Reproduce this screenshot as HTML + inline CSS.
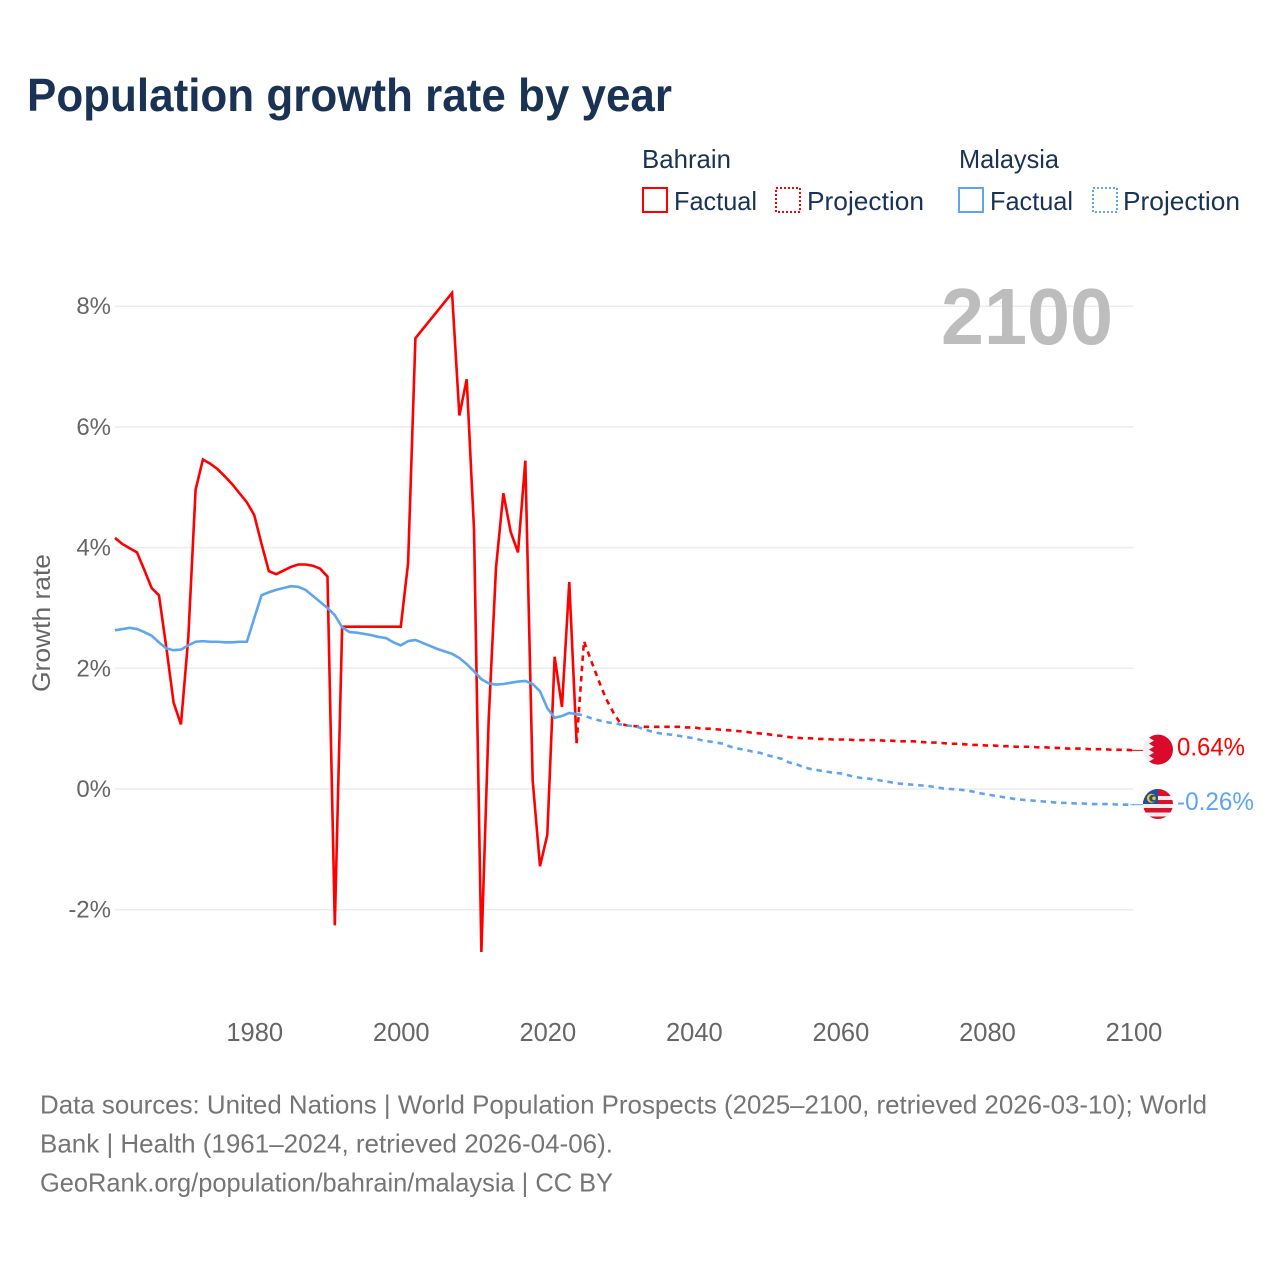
<!DOCTYPE html>
<html lang="en">
<head>
<meta charset="utf-8">
<title>Population growth rate by year</title>
<style>
  html, body { margin: 0; padding: 0; background: #fff; }
  svg { display: block; font-family: "Liberation Sans", sans-serif; }
</style>
</head>
<body>
<svg id="chart" xmlns="http://www.w3.org/2000/svg" width="1280" height="1280" viewBox="0 0 1280 1280">
  <defs>
    <clipPath id="flag-clip"><circle cx="0" cy="0" r="15"></circle></clipPath>
  </defs>
  <rect x="0" y="0" width="1280" height="1280" fill="#ffffff"></rect>

  <text x="27" y="111" font-size="46" font-weight="700" fill="#1a3354" textLength="645" lengthAdjust="spacingAndGlyphs">Population growth rate by year</text>

  <g font-size="26" fill="#1a3354">
    <text x="642" y="168" textLength="89" lengthAdjust="spacingAndGlyphs">Bahrain</text>
    <text x="959" y="168" textLength="100" lengthAdjust="spacingAndGlyphs">Malaysia</text>
    <g>
      <rect x="643" y="188" width="24" height="24" fill="none" stroke="#ff0000" stroke-width="2"></rect>
      <text x="674" y="210" textLength="83" lengthAdjust="spacingAndGlyphs">Factual</text>
    </g>
    <g>
      <rect x="776" y="188" width="24" height="24" fill="none" stroke="#ff0000" stroke-width="2" stroke-dasharray="2 2"></rect>
      <text x="807" y="210" textLength="117" lengthAdjust="spacingAndGlyphs">Projection</text>
    </g>
    <g>
      <rect x="959" y="188" width="24" height="24" fill="none" stroke="#5fa5ee" stroke-width="2"></rect>
      <text x="990" y="210" textLength="83" lengthAdjust="spacingAndGlyphs">Factual</text>
    </g>
    <g>
      <rect x="1093" y="188" width="24" height="24" fill="none" stroke="#5fa5ee" stroke-width="2" stroke-dasharray="2 2"></rect>
      <text x="1123" y="210" textLength="117" lengthAdjust="spacingAndGlyphs">Projection</text>
    </g>
  </g>

  <g id="grid"></g>
  <g id="y-ticks"></g>
  <g id="x-ticks"></g>

  <text transform="translate(50 623) rotate(-90)" text-anchor="middle" font-size="25" fill="#666666" textLength="138" lengthAdjust="spacingAndGlyphs">Growth rate</text>

  <text id="year-watermark" x="1113" y="344" text-anchor="end" font-size="80" font-weight="700" fill="#bdbdbd" textLength="172" lengthAdjust="spacingAndGlyphs">2100</text>

  <g id="series"></g>

  <g id="flag-bahrain">
    <g clip-path="url(#flag-clip)">
      <rect x="-15" y="-16" width="30" height="32" fill="#f0f0f0"></rect>
      <polygon fill="#da0a2c" points="15,-16 -6,-16 -4,-15 -9,-12 -4,-9 -9,-6 -4,-3 -9,0 -4,3 -9,6 -4,9 -9,12 -4,15 -6,16 15,16"></polygon>
    </g>
  </g>

  <g id="flag-malaysia">
    <g clip-path="url(#flag-clip)">
      <rect x="-15" y="-16" width="30" height="32" fill="#eeeeee"></rect>
      <rect x="-15" y="-16" width="30" height="8" fill="#d8112c"></rect>
      <rect x="-15" y="-4" width="30" height="4" fill="#d8112c"></rect>
      <rect x="-15" y="4" width="30" height="4.5" fill="#d8112c"></rect>
      <rect x="-15" y="12.5" width="30" height="4" fill="#d8112c"></rect>
      <rect x="-15" y="-16" width="15" height="16" fill="#1f4fa0"></rect>
      <circle cx="-6.5" cy="-5.7" r="4.6" fill="#f7c600"></circle>
      <circle cx="-5.2" cy="-5.7" r="3.6" fill="#1f4fa0"></circle>
      <circle cx="-4" cy="-5.7" r="1.8" fill="#f7c600"></circle>
    </g>
  </g>

  <g id="end-labels"></g>

  <g font-size="26" fill="#757575">
    <text x="40" y="1113.5" textLength="1167" lengthAdjust="spacingAndGlyphs">Data sources: United Nations | World Population Prospects (2025–2100, retrieved 2026-03-10); World</text>
    <text x="40" y="1152.5" textLength="573" lengthAdjust="spacingAndGlyphs">Bank | Health (1961–2024, retrieved 2026-04-06).</text>
    <text x="40" y="1191.5" textLength="573" lengthAdjust="spacingAndGlyphs">GeoRank.org/population/bahrain/malaysia | CC BY</text>
  </g>
</svg>

<script>
const factualStartYear = 1961;
const projectionStartYear = 2024;

const bahrainFactual = [
  4.16, 4.06, 3.99, 3.92, 3.63, 3.33, 3.21, 2.35, 1.43, 1.07,
  2.50, 4.96, 5.46, 5.39, 5.30, 5.18, 5.05, 4.90, 4.75, 4.54,
  4.06, 3.61, 3.56, 3.62, 3.68, 3.72, 3.72, 3.70, 3.65, 3.52,
  -2.26, 2.69, 2.69, 2.69, 2.69, 2.69, 2.69, 2.69, 2.69, 2.69,
  3.74, 7.47, 7.62, 7.77, 7.92, 8.07, 8.22, 6.19, 6.79, 4.29,
  -2.70, 1.15, 3.67, 4.90, 4.26, 3.92, 5.44, 0.15, -1.28, -0.76,
  2.19, 1.36, 3.43, 0.76
];

const malaysiaFactual = [
  2.63, 2.65, 2.67, 2.65, 2.60, 2.54, 2.43, 2.33, 2.30, 2.31,
  2.38, 2.44, 2.45, 2.44, 2.44, 2.43, 2.43, 2.44, 2.44, 2.83,
  3.21, 3.26, 3.30, 3.33, 3.36, 3.35, 3.30, 3.20, 3.10, 3.00,
  2.88, 2.68, 2.60, 2.59, 2.57, 2.55, 2.52, 2.50, 2.43, 2.38,
  2.45, 2.47, 2.42, 2.37, 2.32, 2.28, 2.24, 2.17, 2.07, 1.95,
  1.82, 1.75, 1.73, 1.74, 1.76, 1.78, 1.79, 1.74, 1.62, 1.34,
  1.18, 1.21, 1.26, 1.24
];

const bahrainProjection = [
  0.76, 2.45, 2.12, 1.80, 1.50, 1.27, 1.08, 1.05, 1.04, 1.03,
  1.03, 1.03, 1.03, 1.03, 1.03, 1.02, 1.02, 1.00, 1.00, 0.99,
  0.98, 0.97, 0.96, 0.95, 0.93, 0.92, 0.91, 0.89, 0.88, 0.86,
  0.85, 0.84, 0.84, 0.83, 0.83, 0.82, 0.82, 0.82, 0.81, 0.81,
  0.81, 0.81, 0.80, 0.80, 0.79, 0.79, 0.79, 0.78, 0.77, 0.77,
  0.76, 0.75, 0.75, 0.74, 0.73, 0.73, 0.72, 0.72, 0.71, 0.71,
  0.70, 0.70, 0.70, 0.69, 0.69, 0.68, 0.68, 0.67, 0.67, 0.67,
  0.66, 0.66, 0.66, 0.65, 0.65, 0.65, 0.64
];

const malaysiaProjection = [
  1.24, 1.22, 1.17, 1.14, 1.11, 1.09, 1.07, 1.05, 1.04, 1.00,
  0.96, 0.93, 0.91, 0.90, 0.88, 0.86, 0.84, 0.81, 0.79, 0.77,
  0.75, 0.70, 0.67, 0.65, 0.62, 0.60, 0.56, 0.53, 0.50, 0.44,
  0.41, 0.36, 0.33, 0.31, 0.29, 0.27, 0.26, 0.23, 0.20, 0.18,
  0.17, 0.15, 0.13, 0.11, 0.09, 0.08, 0.07, 0.06, 0.05, 0.03,
  0.01, 0.00, -0.01, -0.02, -0.04, -0.07, -0.09, -0.11, -0.13, -0.15,
  -0.17, -0.18, -0.19, -0.20, -0.21, -0.22, -0.23, -0.23, -0.24, -0.24,
  -0.25, -0.25, -0.25, -0.25, -0.26, -0.26, -0.26
];

const yTickValues = [8, 6, 4, 2, 0, -2];
const yTickLabels = ["8%", "6%", "4%", "2%", "0%", "-2%"];
const xTickYears = [1980, 2000, 2020, 2040, 2060, 2080, 2100];
const endLabels = ["0.64%", "-0.26%"];

const NS = "http://www.w3.org/2000/svg";
const RED = "#ff0000";
const BLUE = "#5fa5ee";

function xScale(year) { return 115 + (year - 1961) * (1133.5 - 115) / (2100 - 1961); }
function yScale(value) { return 789 - value * 60.35; }

function make(tag, attrs, parent) {
  const el = document.createElementNS(NS, tag);
  for (const k in attrs) { el.setAttribute(k, attrs[k]); }
  parent.appendChild(el);
  return el;
}

function linePoints(values, startYear) {
  return values.map(function (v, i) {
    return xScale(startYear + i).toFixed(2) + "," + yScale(v).toFixed(2);
  }).join(" ");
}

const gridGroup = document.getElementById("grid");
const yTickGroup = document.getElementById("y-ticks");
yTickValues.forEach(function (v, i) {
  const gl = make("line", { x1: xScale(1961), x2: xScale(2100), y1: yScale(v), y2: yScale(v), stroke: "#ececec", "stroke-width": 1.5 }, gridGroup);
  
  
  const t = make("text", { x: 111, y: yScale(v) + 8, "text-anchor": "end", "font-size": 24, fill: "#666666" }, yTickGroup);
  
  
  t.textContent = yTickLabels[i];
});

const xTickGroup = document.getElementById("x-ticks");
xTickYears.forEach(function (year) {
  const t = make("text", { x: xScale(year) + 0.5, y: 1041, "text-anchor": "middle", "font-size": 25.5, fill: "#666666" }, xTickGroup);
  
  
  t.textContent = String(year);
});

const seriesGroup = document.getElementById("series");

const bahrainFactualLine = make("polyline", { points: linePoints(bahrainFactual, factualStartYear), fill: "none", stroke: RED, "stroke-width": 2.6, "stroke-linejoin": "miter" }, seriesGroup);



const bahrainProjectionLine = make("polyline", { points: linePoints(bahrainProjection, projectionStartYear), fill: "none", stroke: RED, "stroke-width": 2.6, "stroke-dasharray": "5.5 4.8" }, seriesGroup);



const malaysiaFactualLine = make("polyline", { points: linePoints(malaysiaFactual, factualStartYear), fill: "none", stroke: BLUE, "stroke-width": 2.6 }, seriesGroup);



const malaysiaProjectionLine = make("polyline", { points: linePoints(malaysiaProjection, projectionStartYear), fill: "none", stroke: BLUE, "stroke-width": 2.6, "stroke-dasharray": "5.5 4.8" }, seriesGroup);



const bahrainEnd = bahrainProjection[bahrainProjection.length - 1];
const malaysiaEnd = malaysiaProjection[malaysiaProjection.length - 1];

const bahrainConnector = make("line", { x1: xScale(2100) - 3, x2: 1144, y1: yScale(bahrainEnd), y2: yScale(bahrainEnd), stroke: RED, "stroke-width": 1 }, seriesGroup);



const malaysiaConnector = make("line", { x1: xScale(2100) - 3, x2: 1144, y1: yScale(malaysiaEnd), y2: yScale(malaysiaEnd), stroke: BLUE, "stroke-width": 1 }, seriesGroup);



document.getElementById("flag-bahrain").setAttribute("transform", "translate(1158 " + (yScale(bahrainEnd) - 0.8) + ")");
document.getElementById("flag-malaysia").setAttribute("transform", "translate(1158 " + (yScale(malaysiaEnd) - 0.7) + ")");

const endGroup = document.getElementById("end-labels");

const bahrainEndLabel = make("text", { x: 1177, y: yScale(bahrainEnd) + 5, "font-size": 25, fill: RED, textLength: 68, lengthAdjust: "spacingAndGlyphs" }, endGroup);


bahrainEndLabel.textContent = endLabels[0];

const malaysiaEndLabel = make("text", { x: 1177, y: yScale(malaysiaEnd) + 5.5, "font-size": 25, fill: BLUE, textLength: 77, lengthAdjust: "spacingAndGlyphs" }, endGroup);


malaysiaEndLabel.textContent = endLabels[1];
</script>
</body>
</html>
